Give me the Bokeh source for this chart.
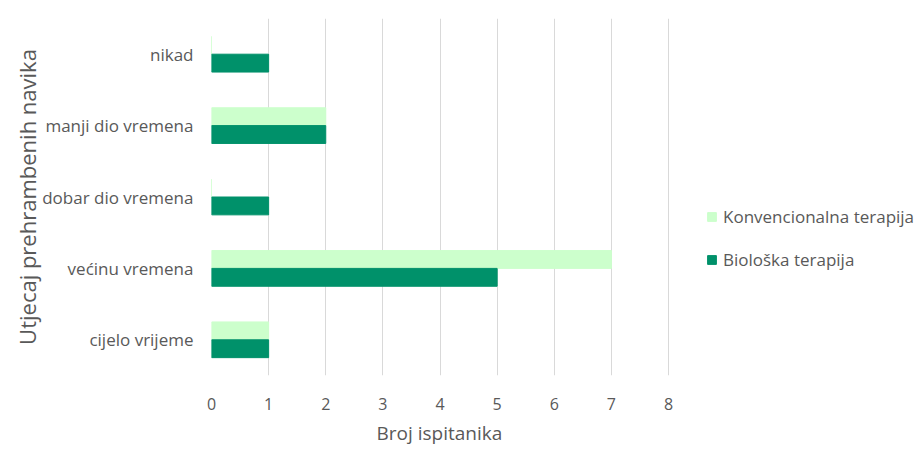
from bokeh.plotting import figure
from bokeh.models import ColumnDataSource, FactorRange, Range1d, FixedTicker, Legend, LegendItem, Title
from bokeh.transform import dodge
from bokeh.embed import file_html
from bokeh.resources import INLINE

categories = ["cijelo vrijeme", "većinu vremena", "dobar dio vremena", "manji dio vremena", "nikad"]
konvencionalna = [1, 7, 0, 2, 0]
bioloska = [1, 5, 1, 2, 1]
x_ticks = [0, 1, 2, 3, 4, 5, 6, 7, 8]
series_names = ["Konvencionalna terapija", "Biološka terapija"]
x_title = "Broj ispitanika"
y_title = "Utjecaj prehrambenih navika"

source = ColumnDataSource(dict(cat=categories, konv=konvencionalna, bio=bioloska))

FONT = "Open Sans"
GREY = "#595959"

W, H = 920, 455
LEFT, TOP, BOTTOM = 211, 18, 80
AXIS_PX = 457  # pixel length of 0..8 on the x axis
frame_w = W - LEFT
x_end = max(x_ticks) * frame_w / AXIS_PX

p = figure(width=W, height=H, output_backend="svg", toolbar_location=None,
           y_range=FactorRange(factors=categories), x_range=Range1d(0, x_end),
           min_border_left=LEFT, min_border_right=0, min_border_top=TOP, min_border_bottom=BOTTOM)
p.outline_line_color = None

r1 = p.hbar(y=dodge("cat", 0.125, range=p.y_range), right="konv", left=0, height=0.25,
            source=source, color="#ccffcc")
r2 = p.hbar(y=dodge("cat", -0.125, range=p.y_range), right="bio", left=0, height=0.25,
            source=source, color="#00916a")

p.xaxis.ticker = FixedTicker(ticks=x_ticks)
p.xgrid.ticker = FixedTicker(ticks=x_ticks)
p.xgrid.grid_line_color = "#d9d9d9"
p.ygrid.grid_line_color = None

for ax in (p.xaxis[0], p.yaxis[0]):
    ax.axis_line_color = None
    ax.major_tick_line_color = None
    ax.minor_tick_line_color = None
    ax.major_label_text_font = FONT
    ax.major_label_text_color = GREY
    ax.axis_label_text_font = FONT
    ax.axis_label_text_color = GREY
    ax.axis_label_text_font_style = "normal"

p.xaxis.major_label_text_font_size = "16px"
p.xaxis.major_label_standoff = 16

p.yaxis.major_label_text_font_size = "17px"
p.yaxis.major_label_standoff = 12
p.yaxis.axis_label = y_title
p.yaxis.axis_label_text_font_size = "22px"
p.yaxis.axis_label_standoff = -3

xt = Title(text=x_title, align="left", offset=165, text_font=FONT, text_font_size="19px",
           text_color=GREY, text_font_style="normal", standoff=10)
p.add_layout(xt, "below")

legend = Legend(items=[LegendItem(label=series_names[0], renderers=[r1]),
                       LegendItem(label=series_names[1], renderers=[r2])],
                location=(495, 104), orientation="vertical",
                glyph_width=11, glyph_height=11, label_standoff=6, spacing=20,
                label_height=23, padding=0, margin=0,
                border_line_color=None, background_fill_alpha=0,
                label_text_font=FONT, label_text_font_size="17px", label_text_color=GREY)
p.add_layout(legend)

open("out.html", "w").write(file_html(p, INLINE))
